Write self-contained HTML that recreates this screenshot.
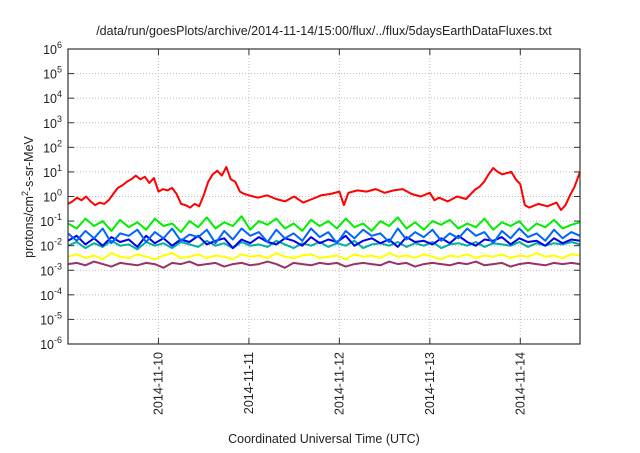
<!DOCTYPE html>
<html><head><meta charset="utf-8"><style>
body{margin:0;background:#fff;}
svg text{font-family:"Liberation Sans",sans-serif;fill:#222;}
</style></head><body>
<svg id="chart" width="640" height="448" viewBox="0 0 640 448" xmlns="http://www.w3.org/2000/svg">
<text x="324" y="35" font-size="12.5" text-anchor="middle">/data/run/goesPlots/archive/2014-11-14/15:00/flux/../flux/5daysEarthDataFluxes.txt</text>
<text transform="translate(33,197) rotate(-90)" font-size="12.5" text-anchor="middle">protons/cm<tspan dy="-5" font-size="9">2</tspan><tspan dy="5">-s-sr-MeV</tspan></text>
<text x="324" y="443" font-size="12.5" text-anchor="middle">Coordinated Universal Time (UTC)</text>
<g id="grid"></g><g id="series"></g><g id="axes"></g>
</svg>
<script>
const xTickLabels=["2014-11-10","2014-11-11","2014-11-12","2014-11-13","2014-11-14"];
const xTickDays=[1,2,3,4,5];
const yExps=[-6,-5,-4,-3,-2,-1,0,1,2,3,4,5,6];
const redT=[0,0.05,0.1,0.15,0.2,0.25,0.3,0.35,0.4,0.45,0.5,0.55,0.6,0.65,0.7,0.75,0.8,0.85,0.9,0.95,1.0,1.05,1.1,1.15,1.2,1.25,1.3,1.35,1.4,1.45,1.5,1.55,1.6,1.65,1.7,1.75,1.8,1.85,1.9,1.95,2.0,2.1,2.2,2.3,2.4,2.5,2.6,2.7,2.8,2.9,3.0,3.05,3.1,3.2,3.3,3.4,3.5,3.6,3.7,3.8,3.9,4.0,4.05,4.1,4.2,4.3,4.4,4.5,4.55,4.6,4.65,4.7,4.75,4.8,4.85,4.9,4.95,5.0,5.05,5.1,5.2,5.3,5.4,5.45,5.5,5.55,5.6,5.66];
const redLog=[-0.3,-0.2,-0.05,-0.15,0,-0.2,-0.35,-0.25,-0.3,-0.15,0.1,0.35,0.45,0.6,0.7,0.85,0.7,0.8,0.55,0.75,0.2,0.3,0.25,0.35,0.1,-0.3,-0.35,-0.45,-0.3,-0.4,0.05,0.6,0.9,1.05,0.85,1.2,0.7,0.6,0.2,0.1,0.05,-0.05,0.05,-0.1,-0.2,0.0,-0.25,-0.1,0.05,0.1,0.2,-0.35,0.15,0.25,0.2,0.3,0.15,0.25,0.3,0.1,0.0,0.15,-0.15,-0.05,-0.2,0.0,-0.1,0.28,0.4,0.6,0.9,1.16,1.0,0.9,0.95,1.0,0.7,0.5,-0.35,-0.45,-0.3,-0.4,-0.25,-0.55,-0.35,0.05,0.4,1.0];
const greenLog=[-1.1,-1.3,-0.9,-1.2,-1.0,-1.4,-0.95,-1.25,-1.05,-1.35,-0.9,-1.2,-1.1,-1.45,-1.0,-1.25,-0.85,-1.3,-1.05,-1.2,-0.8,-1.35,-1.0,-1.15,-0.9,-1.3,-1.1,-1.4,-0.95,-1.2,-1.0,-1.3,-0.9,-1.25,-1.1,-1.4,-1.0,-1.2,-0.85,-1.3,-1.05,-1.35,-1.0,-1.15,-0.95,-1.3,-1.1,-1.25,-0.9,-1.35,-1.05,-1.2,-1.0,-1.4,-1.1,-1.25,-0.95,-1.3,-1.15,-1.05];
const lblueLog=[-1.5,-1.8,-1.4,-1.7,-1.3,-1.9,-1.5,-1.6,-1.35,-1.85,-1.45,-1.7,-1.3,-1.8,-1.55,-1.65,-1.35,-1.9,-1.4,-1.75,-1.3,-1.6,-1.45,-1.85,-1.35,-1.7,-1.5,-1.8,-1.3,-1.65,-1.45,-1.9,-1.4,-1.7,-1.35,-1.6,-1.5,-1.85,-1.3,-1.75,-1.45,-1.65,-1.35,-1.8,-1.5,-1.7,-1.3,-1.6,-1.45,-1.9,-1.4,-1.7,-1.3,-1.65,-1.5,-1.8,-1.35,-1.7,-1.45,-1.6];
const dblueLog=[-1.8,-1.6,-1.95,-1.7,-2.0,-1.65,-1.85,-1.75,-2.05,-1.6,-1.9,-1.7,-2.0,-1.75,-1.85,-1.6,-1.95,-1.8,-1.7,-2.1,-1.75,-1.9,-1.65,-1.85,-1.95,-1.7,-1.8,-2.0,-1.65,-1.9,-1.75,-1.85,-1.6,-2.0,-1.8,-1.7,-1.9,-1.75,-2.05,-1.65,-1.85,-1.8,-1.95,-1.7,-1.9,-1.6,-1.85,-2.0,-1.75,-1.8,-1.65,-1.95,-1.7,-1.85,-1.8,-2.0,-1.7,-1.9,-1.75,-1.8];
const tealLog=[-2.0,-1.85,-2.1,-1.9,-2.05,-1.8,-2.0,-1.95,-2.15,-1.85,-2.0,-1.9,-2.1,-1.85,-1.95,-2.05,-1.8,-2.0,-1.9,-2.1,-1.85,-2.0,-1.95,-2.05,-1.8,-1.95,-2.1,-1.9,-2.0,-1.85,-2.05,-1.9,-2.0,-1.8,-2.1,-1.95,-1.9,-2.0,-1.85,-2.05,-1.9,-2.0,-1.85,-2.1,-1.95,-1.9,-2.0,-1.85,-2.05,-1.9,-1.95,-2.0,-1.85,-2.05,-1.9,-2.0,-1.9,-1.95,-1.85,-1.95];
const yellowLog=[-2.45,-2.35,-2.5,-2.4,-2.55,-2.3,-2.45,-2.5,-2.35,-2.45,-2.55,-2.4,-2.3,-2.5,-2.45,-2.35,-2.5,-2.4,-2.45,-2.55,-2.35,-2.45,-2.4,-2.5,-2.3,-2.45,-2.5,-2.4,-2.35,-2.5,-2.45,-2.4,-2.55,-2.35,-2.45,-2.4,-2.5,-2.3,-2.45,-2.4,-2.5,-2.35,-2.45,-2.55,-2.4,-2.45,-2.35,-2.5,-2.4,-2.45,-2.35,-2.5,-2.4,-2.45,-2.3,-2.45,-2.4,-2.5,-2.35,-2.4];
const purpleLog=[-2.75,-2.7,-2.8,-2.65,-2.75,-2.85,-2.7,-2.75,-2.8,-2.7,-2.75,-2.9,-2.7,-2.75,-2.65,-2.8,-2.75,-2.7,-2.85,-2.75,-2.7,-2.8,-2.75,-2.65,-2.75,-2.9,-2.7,-2.75,-2.8,-2.7,-2.75,-2.7,-2.85,-2.75,-2.7,-2.75,-2.8,-2.65,-2.75,-2.7,-2.85,-2.75,-2.7,-2.75,-2.8,-2.7,-2.75,-2.65,-2.8,-2.75,-2.7,-2.85,-2.75,-2.7,-2.75,-2.8,-2.7,-2.75,-2.7,-2.75];

const L=68,R=580,T=49,B=344,D0=0,D1=5.66;
const xs=d=>L+(d-D0)/(D1-D0)*(R-L);
const ys=e=>B-(e+6)/12*(B-T);
const NS="http://www.w3.org/2000/svg";
function mk(tag,attrs,parent){const el=document.createElementNS(NS,tag);for(const k in attrs)el.setAttribute(k,attrs[k]);parent.appendChild(el);return el;}
const grid=document.getElementById('grid'),axes=document.getElementById('axes'),ser=document.getElementById('series');
yExps.forEach(e=>{
  const y=ys(e);
  if(e>-6&&e<6){const g=mk('line',{x1:L,x2:R,y1:y,y2:y,stroke:'#bbb','stroke-dasharray':'1,2'},grid);
  
  }
  mk('line',{x1:L,x2:L+6,y1:y,y2:y,stroke:'#333'},axes);
  mk('line',{x1:R,x2:R-6,y1:y,y2:y,stroke:'#333'},axes);
  const t=mk('text',{x:62,y:y+5,'font-size':'12.5','text-anchor':'end'},axes);
  
  
  t.textContent='10';
  const s=mk('tspan',{dy:'-6','font-size':'9'},t);s.textContent=String(e);
});
xTickDays.forEach((d,i)=>{
  const x=xs(d);
  const g=mk('line',{x1:x,x2:x,y1:T,y2:B,stroke:'#bbb','stroke-dasharray':'1,2'},grid);
  
  
  mk('line',{x1:x,x2:x,y1:B,y2:B-6,stroke:'#333'},axes);
  mk('line',{x1:x,x2:x,y1:T,y2:T+6,stroke:'#333'},axes);
  const t=mk('text',{transform:`translate(${x+4},${352}) rotate(-90)`,'font-size':'12.5','text-anchor':'end'},axes);
  
  
  t.textContent=xTickLabels[i];
});
const fr=mk('rect',{x:L,y:T,width:R-L,height:B-T,fill:'none',stroke:'#333','stroke-width':1.2},axes);


function series(vals,times,color,name){
  const pts=vals.map((v,i)=>{const d=times?times[i]:D0+i*(D1-D0)/(vals.length-1);return xs(d).toFixed(1)+','+ys(v).toFixed(1);}).join(' ');
  const p=mk('polyline',{points:pts,fill:'none',stroke:color,'stroke-width':2,'stroke-linejoin':'round'},ser);
  
  
}
series(purpleLog,null,'#993366','series-purple');
series(yellowLog,null,'#ffff00','series-yellow');
series(greenLog,null,'#00ee00','series-green');
series(tealLog,null,'#00b0a0','series-teal');
series(dblueLog,null,'#0000ee','series-darkblue');
series(lblueLog,null,'#0066ff','series-lightblue');
series(redLog,redT,'#ff0000','series-red');
</script>
</body></html>
